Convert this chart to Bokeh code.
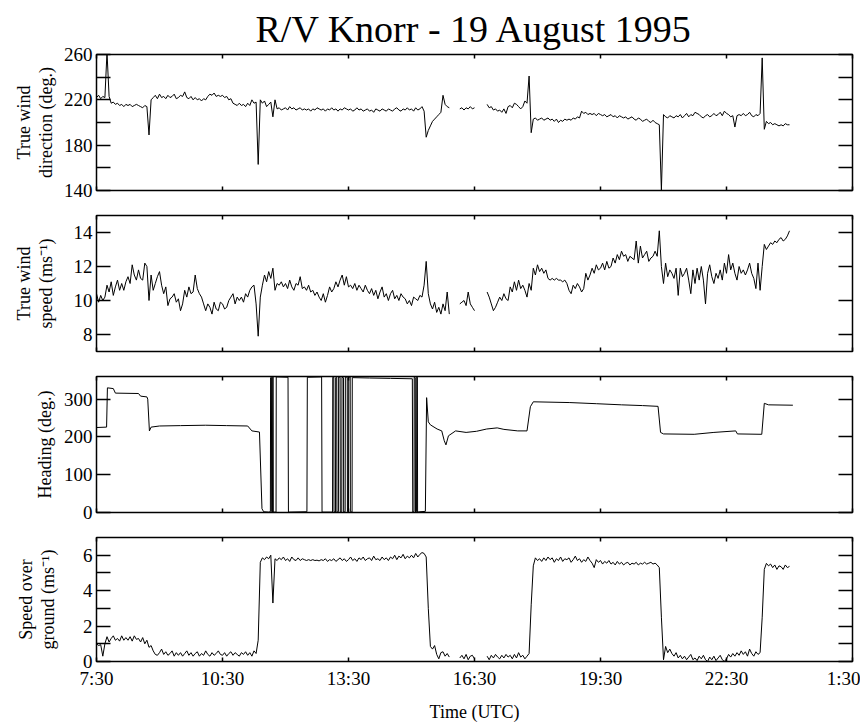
import numpy as np
from bokeh.plotting import figure
from bokeh.layouts import column
from bokeh.models import LinearAxis, FixedTicker, Range1d
from bokeh.embed import file_html
from bokeh.resources import INLINE

FONT = "Liberation Serif"
TITLE = "R/V Knorr - 19 August 1995"

# ---- x axis (hours UTC, continuing past midnight) ----
x_ticks = [7.5, 10.5, 13.5, 16.5, 19.5, 22.5, 25.5]
x_tick_labels = ["7:30", "10:30", "13:30", "16:30", "19:30", "22:30", "1:30"]

# sampling step (hours) and start times of the three data segments
step = 0.05
seg_start = [7.50, 16.15, 16.80]

# ---- True wind direction (deg.) ----
dir_seg1 = [
    222, 224, 221, 223, 222, 262, 223, 217, 218, 216,
    217, 215, 216, 214, 216, 215, 216, 214, 215, 216,
    215, 214, 213, 215, 214, 189, 220, 222, 224, 221,
    225, 222, 223, 221, 224, 222, 223, 225, 221, 222,
    224, 223, 227, 222, 221, 223, 220, 222, 220, 221,
    219, 221, 220, 223, 225, 224, 226, 223, 224, 223,
    224, 222, 223, 220, 221, 217, 216, 215, 217, 215,
    216, 214, 217, 215, 220, 217, 218, 163, 220, 217,
    219, 214, 216, 218, 205, 220, 212, 213, 211, 212,
    213, 211, 214, 212, 213, 211, 212, 213, 211, 212,
    211, 212, 210, 212, 211, 213, 212, 211, 212, 210,
    212, 211, 213, 211, 212, 210, 212, 211, 213, 212,
    211, 212, 210, 211, 213, 211, 212, 210, 211, 212,
    210, 211, 209, 212, 211, 210, 212, 211, 210, 212,
    211, 210, 212, 213, 211, 210, 212, 211, 213, 211,
    212, 210, 213, 211, 212, 214, 210, 187, 193, 197,
    201, 203, 205, 207, 209, 224, 216, 214, 213]
dir_seg2 = [212, 213, 211, 213, 212, 214, 212, 213]
dir_seg3 = [
    216, 213, 214, 211, 212, 210, 211, 209, 212, 208,
    214, 215, 213, 217, 216, 214, 212, 214, 219, 217,
    241, 191, 203, 204, 202, 203, 204, 202, 203, 204,
    202, 203, 201, 203, 200, 202, 201, 203, 202, 203,
    202, 204, 203, 205, 204, 210, 208, 209, 207, 208,
    207, 208, 206, 208, 207, 206, 207, 205, 206, 207,
    205, 206, 204, 206, 205, 204, 205, 203, 204, 205,
    203, 202, 204, 203, 201, 202, 203, 201, 200, 202,
    200, 199, 198, 140, 207, 205, 204, 206, 205, 204,
    206, 205, 207, 204, 206, 208, 205, 207, 206, 209,
    208, 207, 205, 204, 206, 207, 205, 206, 208, 206,
    207, 209, 206, 210, 208, 207, 205, 206, 196, 206,
    207, 206, 208, 206, 207, 209, 206, 205, 207, 206,
    208, 257, 194, 201, 199, 200, 198, 199, 198, 197,
    198, 197, 199, 198, 198]

# ---- True wind speed (m/s) ----
spd_seg1 = [
    10.4, 9.9, 10.3, 10.0, 10.2, 10.9, 10.5, 11.1, 10.3, 10.8,
    11.2, 10.6, 11.0, 10.6, 11.1, 11.4, 11.0, 12.1, 11.5, 11.2,
    11.8, 11.3, 11.2, 12.2, 12.0, 10.0, 11.5, 10.6, 11.0, 11.4,
    11.7, 10.9, 10.4, 10.8, 9.7, 10.1, 10.2, 10.4, 9.9, 10.1,
    9.4, 9.8, 10.6, 10.2, 10.8, 10.4, 10.5, 11.5, 10.7, 10.4,
    10.2, 9.8, 9.4, 9.8, 9.6, 9.2, 9.9, 9.5, 9.4, 9.9,
    9.8, 9.5, 9.6, 10.0, 10.2, 10.4, 9.8, 10.2, 10.0, 10.2,
    9.9, 10.4, 10.2, 10.6, 10.8, 10.9, 9.8, 7.9, 10.2, 10.9,
    11.5, 11.1, 11.7, 11.3, 11.9, 10.6, 11.0, 10.9, 11.1, 10.8,
    11.0, 10.7, 11.2, 10.8, 10.6, 11.0, 10.9, 11.4, 10.7, 10.8,
    10.6, 10.9, 10.5, 10.6, 10.3, 10.5, 10.2, 10.0, 10.4, 9.9,
    10.3, 10.8, 10.5, 10.7, 11.1, 10.8, 11.2, 11.5, 10.9, 11.4,
    10.8, 10.9, 10.7, 11.0, 10.6, 10.9, 10.7, 10.5, 10.9, 10.6,
    10.4, 10.7, 10.3, 10.6, 10.1, 10.5, 10.8, 10.2, 10.4, 10.0,
    10.4, 10.6, 10.1, 10.3, 10.0, 10.4, 10.2, 10.1, 9.8, 10.0,
    9.7, 10.2, 10.1, 10.0, 10.3, 10.2, 10.9, 12.3, 10.4, 9.8,
    9.5, 9.9, 9.3, 9.6, 9.2, 9.8, 9.4, 10.5, 9.2]
spd_seg2 = [9.8, 9.9, 10.0, 9.7, 10.5, 9.8, 9.6, 9.4]
spd_seg3 = [
    10.5, 10.2, 9.8, 9.4, 9.6, 9.9, 10.2, 10.0, 10.4, 10.1,
    10.0, 10.8, 10.5, 11.1, 10.6, 11.2, 10.7, 10.9, 10.6, 10.2,
    11.0, 10.6, 11.9, 11.5, 12.1, 11.7, 11.9, 11.6, 11.8, 11.3,
    11.2, 11.3, 11.2, 11.3, 11.2, 11.2, 11.1, 11.2, 11.0, 10.6,
    10.4, 10.9, 10.7, 11.0, 10.8, 10.5, 10.7, 11.6, 11.2, 11.5,
    11.9, 11.6, 12.1, 11.8, 11.9, 12.2, 11.8, 12.3, 11.9, 12.0,
    12.5, 12.2, 12.7, 12.4, 12.9, 12.6, 12.7, 12.3, 12.6, 12.5,
    12.4, 13.5, 12.2, 13.2, 12.5, 12.7, 12.9, 12.3, 12.5, 12.6,
    12.9, 12.6, 14.1, 12.0, 11.0, 12.2, 11.4, 11.8, 11.6, 11.3,
    11.9, 10.3, 11.9, 11.4, 11.6, 11.9, 11.2, 10.4, 11.8, 11.0,
    11.9, 11.2, 12.0, 11.2, 9.8, 11.6, 12.1, 11.4, 11.0, 11.6,
    11.3, 11.8, 11.2, 12.2, 11.6, 12.7, 11.8, 12.2, 11.6, 11.2,
    12.0, 11.6, 11.8, 11.5, 11.8, 12.2, 11.6, 11.3, 10.7, 12.2,
    10.6, 12.0, 13.3, 13.0, 13.2, 13.4, 13.3, 13.5, 13.4, 13.6,
    13.7, 13.5, 13.6, 13.8, 14.1]

# ---- Heading (deg.) ----
hdg_t = [7.50, 7.74, 7.76, 7.90, 7.95, 8.50, 8.55, 8.70, 8.72, 8.76, 8.80, 9.00,
         9.50, 10.10, 10.60, 11.10, 11.20, 11.38, 11.44, 11.48, 11.60,
         11.64, 11.645, 11.665, 11.67, 11.69, 11.695, 11.705, 11.71, 11.775, 11.78,
         12.06, 12.07, 12.51, 12.52, 12.86, 12.87,
         13.12, 13.125, 13.15, 13.155, 13.19, 13.195, 13.22, 13.225, 13.26, 13.265,
         13.30, 13.305, 13.34, 13.345, 13.38, 13.385, 13.42, 13.425, 13.47, 13.475,
         13.50, 13.505, 13.54, 13.545, 13.585, 13.59, 14.0, 14.5, 15.02,
         15.03, 15.06, 15.065, 15.09, 15.095, 15.12, 15.125, 15.14, 15.145, 15.20, 15.33,
         15.36, 15.40, 15.45, 15.61, 15.72, 15.78, 15.82, 15.88, 16.05, 16.30, 16.55,
         16.79, 17.04, 17.20, 17.53, 17.75, 17.83, 17.90, 18.77, 19.40, 20.00, 20.50,
         20.87, 20.93, 21.00, 21.73, 22.20, 22.72, 22.76, 23.34, 23.40, 23.50, 24.08]
hdg_v = [225, 226, 330, 328, 316, 315, 308, 306, 300, 216, 226, 229,
         230, 231, 230, 229, 216, 213, 10, 2, 1,
         2, 357, 358, 2, 1, 358, 359, 1, 1, 359,
         358, 1, 2, 358, 359, 1,
         1, 358, 358, 2, 1, 357, 358, 1, 2, 359,
         358, 1, 2, 358, 357, 1, 2, 359, 358, 2,
         1, 358, 359, 2, 1, 357, 356, 355, 354,
         1, 2, 358, 357, 1, 2, 359, 358, 1, 2, 3,
         304, 240, 232, 221, 216, 190, 179, 203, 216, 212, 215,
         221, 224, 220, 216, 216, 280, 293, 291, 288, 285, 283,
         281, 212, 208, 207, 212, 216, 208, 207, 289, 285, 284]

# ---- Speed over ground (m/s) ----
sog_seg1 = [
    1.0, 0.9, 0.95, 0.3, 1.0, 1.4, 1.1, 1.3, 1.45, 1.2,
    1.3, 1.15, 1.45, 1.2, 1.35, 1.2, 1.4, 1.15, 1.45, 1.25,
    1.3, 1.1, 1.35, 1.0, 1.2, 0.8, 0.9, 0.6, 0.4, 0.35,
    0.5, 0.7, 0.4, 0.55, 0.35, 0.45, 0.6, 0.3, 0.5, 0.35,
    0.5, 0.3, 0.45, 0.6, 0.35, 0.5, 0.3, 0.45, 0.55, 0.3,
    0.45, 0.35, 0.6, 0.4, 0.3, 0.5, 0.35, 0.45, 0.6, 0.4,
    0.35, 0.5, 0.3, 0.45, 0.55, 0.35, 0.5, 0.4, 0.3, 0.5,
    0.4, 0.55, 0.35, 0.5, 0.3, 0.6, 0.45, 1.2, 5.6, 5.85,
    5.75, 5.9, 5.8, 6.0, 3.3, 5.8, 5.7, 5.85, 5.75, 5.9,
    5.7, 5.8, 5.65, 5.9, 5.75, 5.7, 5.85, 5.7, 5.8, 5.75,
    5.7, 5.75, 5.7, 5.75, 5.7, 5.72, 5.68, 5.75, 5.7, 5.8,
    5.65, 5.75, 5.7, 5.8, 5.65, 5.75, 5.85, 5.7, 5.8, 5.65,
    5.75, 5.9, 5.7, 5.8, 5.65, 5.85, 5.75, 5.9, 5.7, 5.8,
    5.85, 5.7, 5.95, 5.75, 5.8, 5.7, 5.9, 5.75, 5.85, 5.7,
    5.9, 5.8, 6.0, 5.75, 5.95, 5.85, 6.05, 5.8, 5.95, 5.85,
    6.0, 5.85, 6.1, 5.9, 6.05, 6.15, 6.1, 5.9, 3.0, 0.85,
    0.7, 0.9, 0.4, 0.15, 0.5, 0.55, 0.3, 0.45, 0.25]
sog_seg2 = [0.2, 0.35, 0.15, 0.4, 0.1, 0.3, 0.35, 0.15]
sog_seg3 = [
    0.3, 0.1, 0.35, 0.2, 0.4, 0.25, 0.15, 0.35, 0.2, 0.4,
    0.25, 0.35, 0.15, 0.4, 0.2, 0.5, 0.25, 0.35, 0.15, 0.3,
    0.45, 3.2, 5.4, 5.85, 5.7, 5.8, 5.65, 5.85, 5.7, 5.9,
    5.75, 5.85, 5.6, 5.8, 5.7, 5.9, 5.65, 5.8, 5.75, 5.85,
    5.6, 5.75, 5.95, 5.7, 5.8, 5.6, 5.75, 5.65, 5.9, 5.7,
    5.55, 5.3, 5.75, 5.6, 5.7, 5.5, 5.65, 5.55, 5.7, 5.5,
    5.6, 5.45, 5.65, 5.5, 5.6, 5.45, 5.55, 5.6, 5.45, 5.55,
    5.5, 5.6, 5.45, 5.55, 5.5, 5.6, 5.5, 5.55, 5.6, 5.5,
    5.55, 5.45, 5.3, 2.5, 0.1, 0.85, 0.5, 0.7, 0.45, 0.3,
    0.5, 0.2, 0.35, 0.15, 0.3, 0.1, 0.25, 0.4, 0.1, 0.2,
    0.05, 0.3, 0.15, 0.35, 0.1, 0.0, 0.25, 0.1, 0.3, 0.05,
    0.2, 0.35, 0.1, 0.0, 0.15, 0.4, 0.25, 0.45, 0.3, 0.5,
    0.35, 0.6, 0.4, 0.55, 0.3, 0.7, 0.45, 0.3, 0.55, 0.4,
    0.5, 2.5, 5.2, 5.54, 5.4, 5.5, 5.3, 5.45, 5.2, 5.4,
    5.35, 5.2, 5.45, 5.3, 5.37]


def segments(parts):
    xs, ys = [], []
    for t0, vals in zip(seg_start, parts):
        if xs:
            xs.append(np.nan)
            ys.append(np.nan)
        for i, v in enumerate(vals):
            xs.append(t0 + i * step)
            ys.append(v)
    return np.array(xs, dtype=float), np.array(ys, dtype=float)


def style_axis(ax, tick_len, show_labels):
    ax.axis_line_color = None
    ax.major_tick_in = tick_len
    ax.major_tick_out = 0
    ax.minor_tick_in = tick_len
    ax.minor_tick_out = 0
    ax.major_tick_line_color = "black"
    ax.major_tick_line_width = 1.5
    ax.minor_tick_line_color = "black"
    ax.minor_tick_line_width = 1.5
    if show_labels:
        ax.major_label_text_font = FONT
        ax.major_label_text_font_size = "19px"
        ax.major_label_text_color = "black"
        ax.major_label_standoff = 4
    else:
        ax.major_label_text_font_size = "0px"
        ax.major_label_text_color = None
        ax.major_label_standoff = 0


def panel(height, yr, yticks, yminor, ylabel, b_top, b_bottom, lab_standoff, last=False):
    p = figure(width=860, height=height, x_range=Range1d(7.5, 25.5), y_range=Range1d(*yr),
               output_backend="svg", toolbar_location=None,
               x_axis_location=None, y_axis_location=None,
               min_border_left=96, min_border_right=8,
               min_border_top=b_top, min_border_bottom=b_bottom)
    p.grid.visible = False
    p.outline_line_color = "black"
    p.outline_line_width = 1.5
    p.outline_line_alpha = 1.0
    p.background_fill_color = "white"
    p.border_fill_color = "white"

    for loc in ("above", "below"):
        ax = LinearAxis(ticker=FixedTicker(ticks=x_ticks))
        show = last and loc == "below"
        style_axis(ax, 4, show)
        if show:
            ax.major_label_overrides = dict(zip(x_ticks, x_tick_labels))
            ax.major_label_standoff = 6
            ax.axis_label = "Time (UTC)"
            ax.axis_label_text_font = FONT
            ax.axis_label_text_font_size = "18px"
            ax.axis_label_text_font_style = "normal"
            ax.axis_label_text_color = "black"
            ax.axis_label_standoff = 10
        p.add_layout(ax, loc)

    for loc in ("left", "right"):
        ax = LinearAxis(ticker=FixedTicker(ticks=yticks, minor_ticks=yminor))
        show = loc == "left"
        style_axis(ax, 14, show)
        if show:
            ax.axis_label = ylabel
            ax.axis_label_text_font = FONT
            ax.axis_label_text_font_size = "18px"
            ax.axis_label_text_font_style = "normal"
            ax.axis_label_text_color = "black"
            ax.axis_label_text_line_height = 1.1
            ax.axis_label_standoff = lab_standoff
        p.add_layout(ax, loc)
    return p


p1 = panel(202, (140, 260), [140, 180, 220, 260], [160, 200, 240],
           "True wind\ndirection (deg.)", 54, 12, 5)
p1.title.text = TITLE
p1.title.align = "center"
p1.title.text_font = FONT
p1.title.text_font_size = "38px"
p1.title.text_font_style = "normal"
p1.title.text_color = "black"
p1.title.standoff = 10
x, y = segments([dir_seg1, dir_seg2, dir_seg3])
p1.line(x, y, color="black", line_width=1)

p2 = panel(161, (7, 15), [8, 10, 12, 14], [], "True wind\nspeed (ms\u207b\u00b9)", 13, 12, 15)
x, y = segments([spd_seg1, spd_seg2, spd_seg3])
p2.line(x, y, color="black", line_width=1)

p3 = panel(161, (0, 360), [0, 100, 200, 300], [], "Heading (deg.)", 13, 12, 6)
p3.line(hdg_t, hdg_v, color="black", line_width=1)

p4 = panel(201, (0, 7), [0, 2, 4, 6], [1, 3, 5], "Speed over\nground (ms\u207b\u00b9)",
           13, 64, 22, last=True)
x, y = segments([sog_seg1, sog_seg2, sog_seg3])
p4.line(x, y, color="black", line_width=1)

layout = column(p1, p2, p3, p4, spacing=0)
open("out.html", "w").write(file_html(layout, INLINE, title=TITLE))
